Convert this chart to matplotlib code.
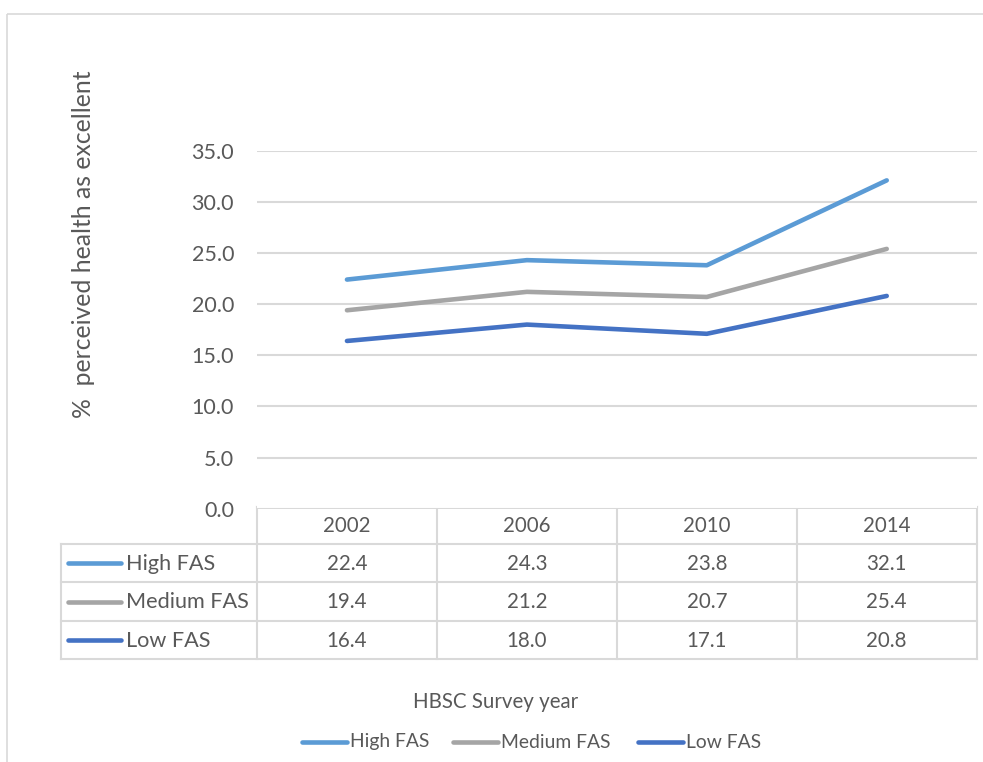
import matplotlib.pyplot as plt
from matplotlib.patches import Rectangle

years = ['2002', '2006', '2010', '2014']
series_names = ['High FAS', 'Medium FAS', 'Low FAS']
high_fas = [22.4, 24.3, 23.8, 32.1]
medium_fas = [19.4, 21.2, 20.7, 25.4]
low_fas = [16.4, 18.0, 17.1, 20.8]
y_ticks = [0, 5, 10, 15, 20, 25, 30, 35]

colors = ['#5B9BD5', '#A5A5A5', '#4472C4']
txt = '#595959'
grid = '#D9D9D9'
FONT = 'Lato'
W, H = 983, 762

plt.rcParams['font.family'] = [FONT, 'DejaVu Sans']

fig = plt.figure(figsize=(W / 100, H / 100), dpi=100)

# pixel helpers
def fx(px):
    return px / W

def fy(py):
    return 1 - py / H

# plot area
left, right, top, bottom = 257, 976.7, 150.7, 508.7
ax = fig.add_axes([fx(left), fy(bottom), fx(right) - fx(left), fy(top) - fy(bottom)])
ax.set_xlim(-0.5, 3.5)
ax.set_ylim(0, 35)
for s in ax.spines.values():
    s.set_visible(False)
ax.set_xticks([])
ax.set_yticks(y_ticks)
ax.set_yticklabels(['%.1f' % v for v in y_ticks])
ax.tick_params(axis='y', length=0, pad=16.5, labelsize=15.5, labelcolor=txt)
ax.yaxis.grid(True, color=grid, linewidth=1.5)
ax.set_axisbelow(True)

x = range(len(years))
all_series = [high_fas, medium_fas, low_fas]
for vals, c, name in zip(all_series, colors, series_names):
    ax.plot(x, vals, color=c, linewidth=3.3, solid_capstyle='round',
            solid_joinstyle='round', label=name, clip_on=False)

# overlay in pixel coordinates for table, titles and legend
ov = fig.add_axes([0, 0, 1, 1], zorder=-1)
ov.set_xlim(0, W)
ov.set_ylim(H, 0)
ov.axis('off')

# outer chart border
ov.add_patch(Rectangle((7.3, 13.7), 1000, 800, fill=False, edgecolor=grid, linewidth=1.2))

# data table
col_w = (right - left) / 4
row_y = [507, 544, 582, 621, 659]
lw_t = 1.5
ov.plot([left, right], [row_y[0], row_y[0]], color=grid, lw=lw_t)
for yy in row_y[1:]:
    ov.plot([61, right], [yy, yy], color=grid, lw=lw_t)
for i in range(5):
    xx = left + i * col_w
    ov.plot([xx, xx], [row_y[0], row_y[-1]], color=grid, lw=lw_t)
ov.plot([61, 61], [row_y[1], row_y[-1]], color=grid, lw=lw_t)

for i, yr in enumerate(years):
    ov.text(left + (i + 0.5) * col_w, (row_y[0] + row_y[1]) / 2 + 1, yr,
            ha='center', va='center', fontsize=14.8, color=txt)
for r, (vals, c, name) in enumerate(zip(all_series, colors, series_names)):
    cy = (row_y[r + 1] + row_y[r + 2]) / 2 + 1
    ov.plot([68, 121], [cy - 1, cy - 1], color=c, lw=3.3, solid_capstyle='round')
    ov.text(126, cy, name, ha='left', va='center', fontsize=15.6, color=txt)
    for i, v in enumerate(vals):
        ov.text(left + (i + 0.5) * col_w, cy, '%.1f' % v,
                ha='center', va='center', fontsize=14.8, color=txt)

# axis titles
ov.text(84, 244, '%  perceived health as excellent', rotation=90,
        ha='center', va='center', fontsize=17.8, color=txt)
ov.text(496, 702, 'HBSC Survey year', ha='center', va='center', fontsize=14.8, color=txt)

# legend
leg_x = [302, 453, 638]
for lx, c, name in zip(leg_x, colors, series_names):
    ov.plot([lx, lx + 45], [742, 742], color=c, lw=3.3, solid_capstyle='round')
    ov.text(lx + 48, 742, name, ha='left', va='center', fontsize=13.9, color=txt)

fig.savefig('out.png', dpi=100, facecolor='white')
